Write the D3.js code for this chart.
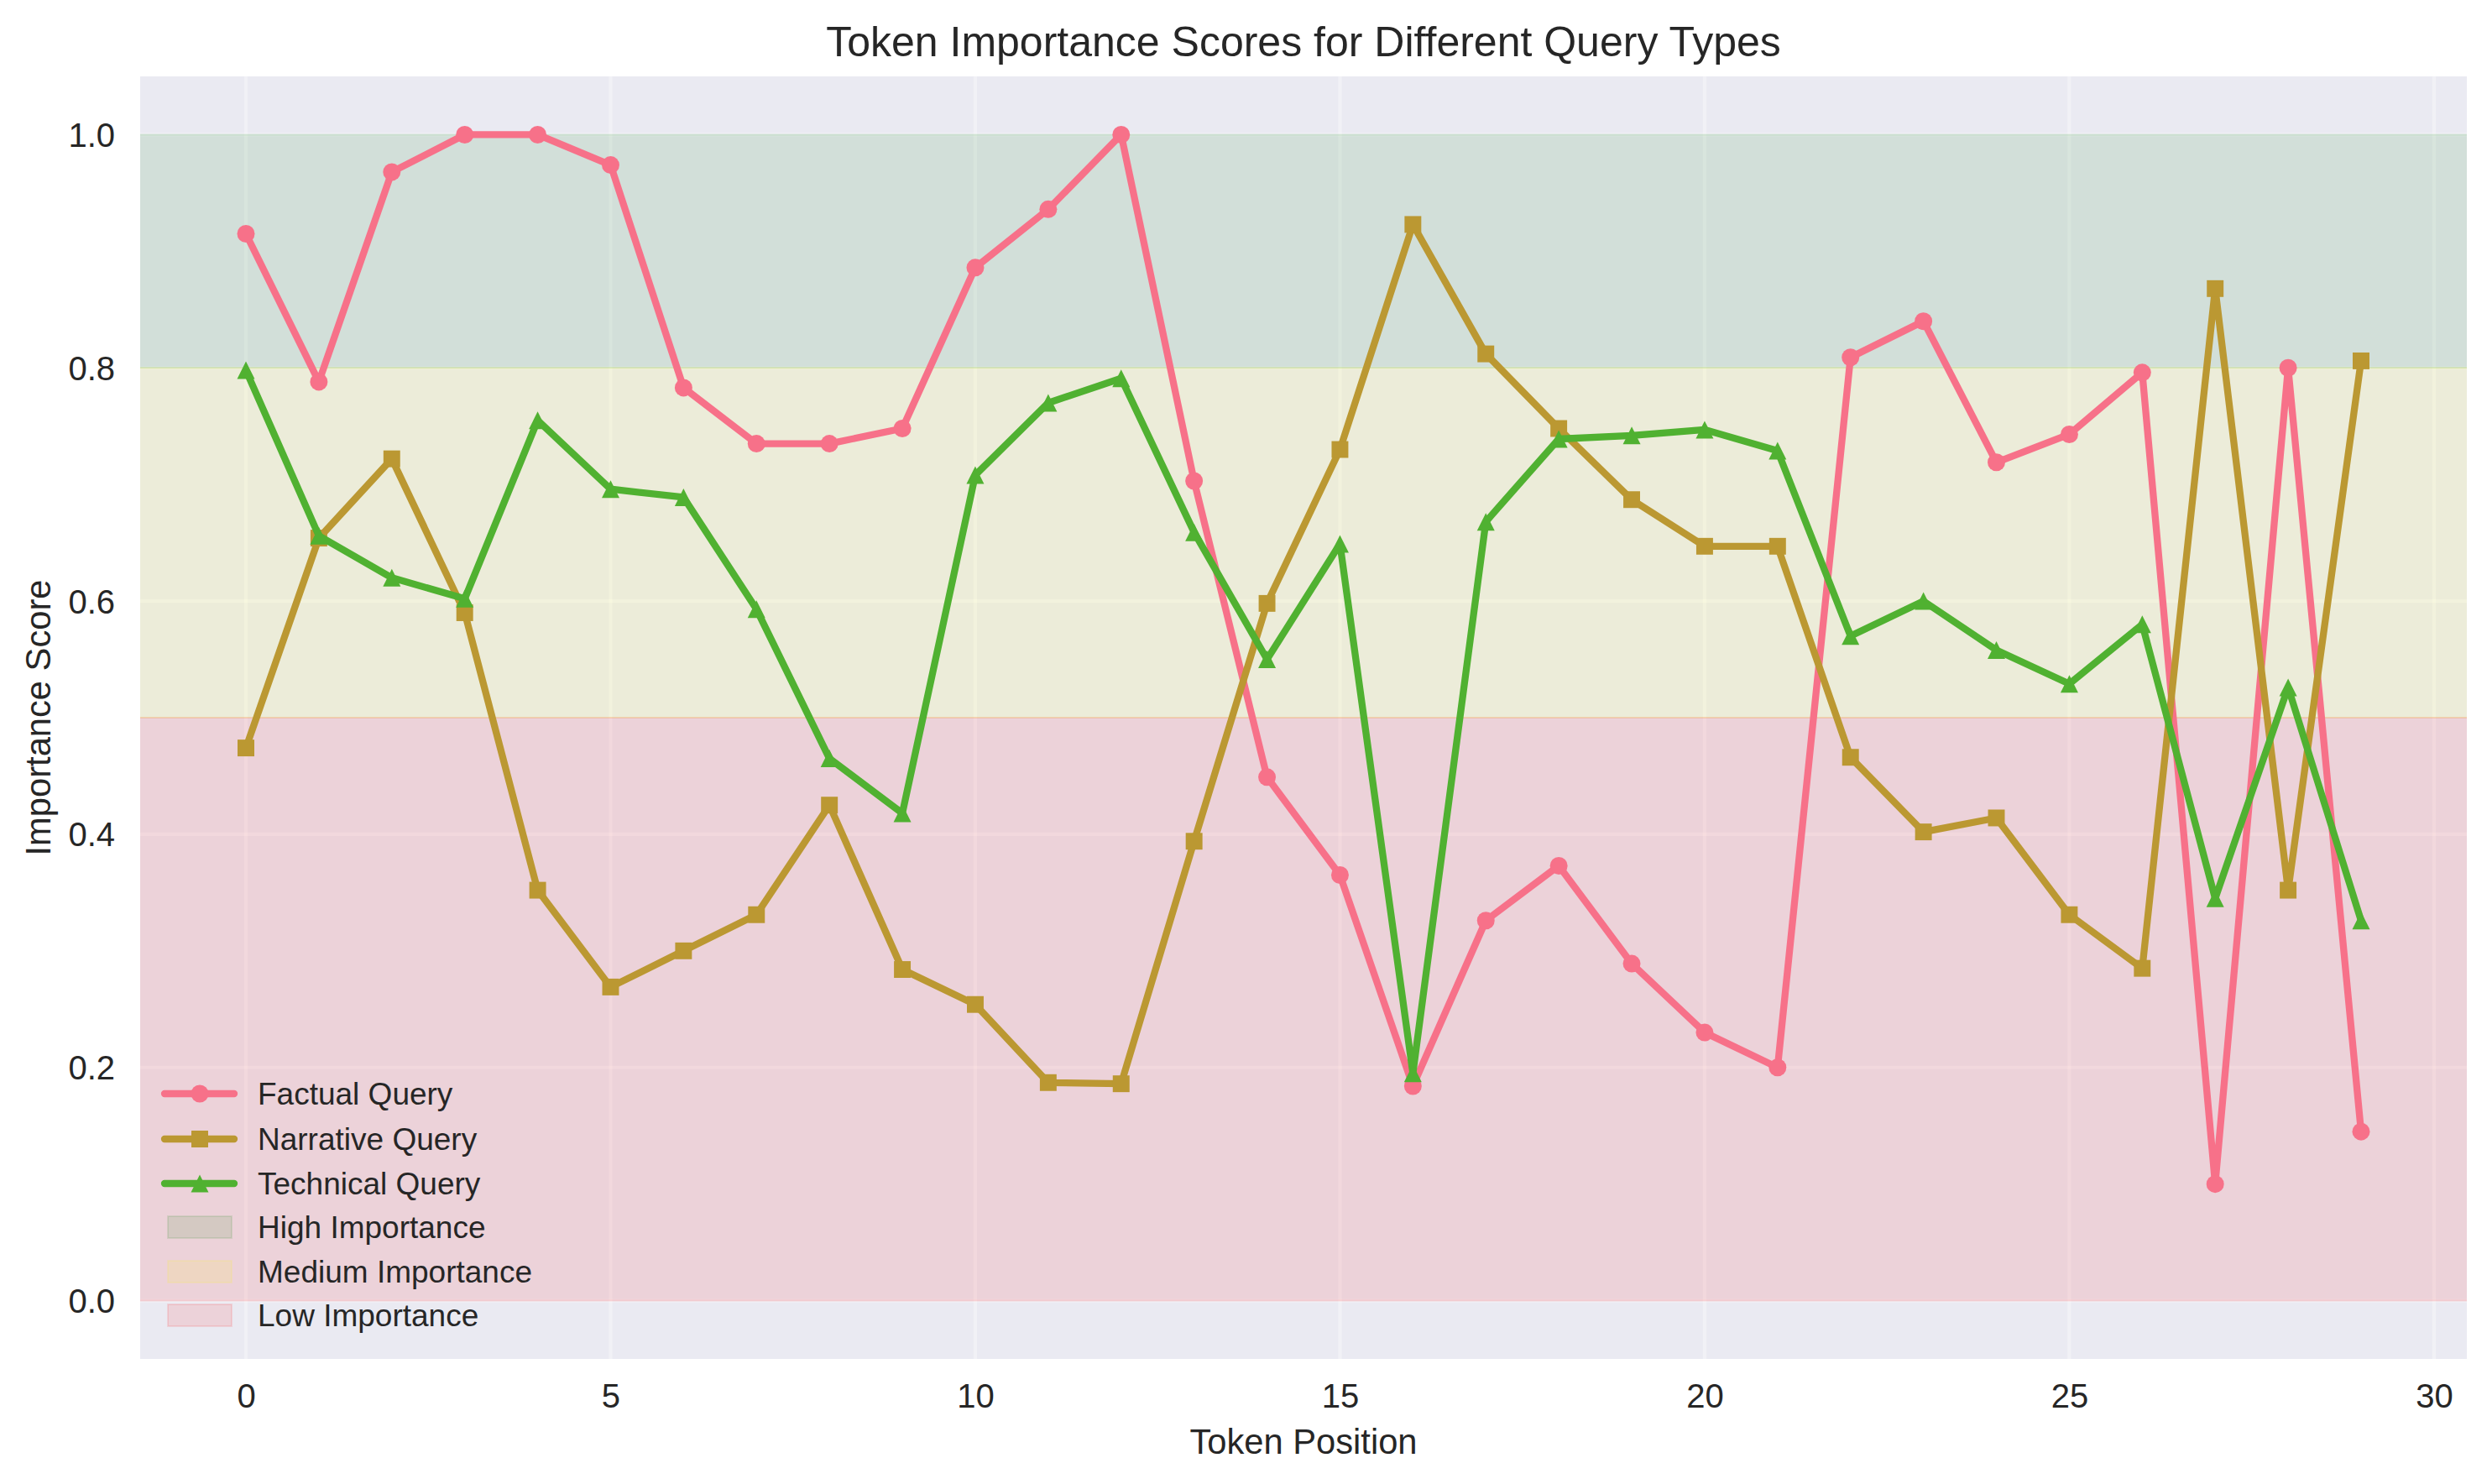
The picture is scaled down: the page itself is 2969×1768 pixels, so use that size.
<!DOCTYPE html>
<html>
<head>
<meta charset="utf-8">
<script src="https://cdn.jsdelivr.net/npm/d3@7"></script>
<style>
html, body { margin: 0; padding: 0; background: #ffffff; }
svg { display: block; }
text { font-family: "Liberation Sans", Arial, sans-serif; fill: #262626; }
</style>
</head>
<body>
<svg id="chart" width="2969" height="1768"></svg>
<script>
// ---- data ----
const positions = d3.range(30);
const factual = [0.915, 0.788, 0.968, 1.0, 1.0, 0.974, 0.783, 0.735, 0.735, 0.748,
                 0.886, 0.936, 1.0, 0.703, 0.449, 0.365, 0.184, 0.326, 0.373, 0.289,
                 0.230, 0.200, 0.809, 0.840, 0.719, 0.743, 0.796, 0.100, 0.800, 0.145];
const narrative = [0.474, 0.654, 0.722, 0.590, 0.352, 0.269, 0.300, 0.331, 0.425, 0.284,
                   0.254, 0.187, 0.186, 0.394, 0.598, 0.730, 0.923, 0.812, 0.748, 0.687,
                   0.647, 0.647, 0.466, 0.402, 0.414, 0.331, 0.285, 0.868, 0.352, 0.806];
const technical = [0.798, 0.656, 0.620, 0.602, 0.755, 0.696, 0.689, 0.593, 0.465, 0.418,
                   0.708, 0.770, 0.791, 0.659, 0.550, 0.649, 0.195, 0.668, 0.739, 0.742,
                   0.747, 0.729, 0.570, 0.600, 0.558, 0.529, 0.580, 0.345, 0.526, 0.326];
const seriesNames = ["Factual Query", "Narrative Query", "Technical Query"];
const seriesColors = ["#f77189", "#bb9832", "#50b131"];
const seriesMarkers = ["circle", "square", "triangle"];
const bandNames = ["High Importance", "Medium Importance", "Low Importance"];
const bandLow = [0.8, 0.5, 0.0];
const bandHigh = [1.0, 0.8, 0.5];
const bandColors = ["#008000", "#ffff00", "#ff0000"];
const xTicks = [0, 5, 10, 15, 20, 25, 30];
const yTicks = [0.0, 0.2, 0.4, 0.6, 0.8, 1.0];
const titleText = "Token Importance Scores for Different Query Types";
const xLabel = "Token Position";
const yLabel = "Importance Score";

// ---- layout ----
const svg = d3.select("#chart");
const L = 167, R = 2939, T = 91, B = 1619;
const x = d3.scaleLinear().domain([-1.45, 30.45]).range([L, R]);
const y = d3.scaleLinear().domain([-0.05, 1.05]).range([B, T]);

svg.append("rect").attr("x", L).attr("y", T).attr("width", R - L).attr("height", B - T)
  .attr("fill", "#eaeaf2");

// grid
const grid = svg.append("g");
xTicks.forEach(t => grid.append("line")
  .attr("x1", x(t)).attr("x2", x(t)).attr("y1", T).attr("y2", B)
  .attr("stroke", "#ffffff").attr("stroke-opacity", 0.35).attr("stroke-width", 4.2));
yTicks.forEach(t => grid.append("line")
  .attr("x1", L).attr("x2", R).attr("y1", y(t)).attr("y2", y(t))
  .attr("stroke", "#ffffff").attr("stroke-opacity", 0.35).attr("stroke-width", 4.2));

// bands
const clip = svg.append("clipPath").attr("id", "clipArea");
clip.append("rect").attr("x", L).attr("y", T).attr("width", R - L).attr("height", B - T);
const bands = svg.append("g").attr("clip-path", "url(#clipArea)");
bandNames.forEach((n, i) => {
  bands.append("rect")
    .attr("x", L - 5).attr("width", R - L + 10)
    .attr("y", y(bandHigh[i])).attr("height", y(bandLow[i]) - y(bandHigh[i]))
    .attr("fill", bandColors[i]).attr("fill-opacity", 0.1)
    .attr("stroke", bandColors[i]).attr("stroke-opacity", 0.1).attr("stroke-width", 2);
});

// marker paths
const MS = 21;
function markerPath(type) {
  const h = MS / 2;
  if (type === "circle") return d3.symbol(d3.symbolCircle, Math.PI * h * h)();
  if (type === "square") return `M${-h * 0.95},${-h * 0.95}H${h * 0.95}V${h * 0.95}H${-h * 0.95}Z`;
  return `M0,${-h}L${h},${h}L${-h},${h}Z`;
}

const allSeries = [factual, narrative, technical];
const lineGen = d3.line().x((d, i) => x(positions[i])).y(d => y(d));
const plot = svg.append("g").attr("clip-path", "url(#clipArea)");
allSeries.forEach((vals, si) => {
  const g = plot.append("g");
  g.append("path").datum(vals).attr("d", lineGen)
    .attr("fill", "none").attr("stroke", seriesColors[si]).attr("stroke-width", 8.3)
    .attr("stroke-linejoin", "round").attr("stroke-linecap", "round");
  g.selectAll("path.m").data(vals).enter().append("path").attr("class", "m")
    .attr("d", markerPath(seriesMarkers[si]))
    .attr("transform", (d, i) => `translate(${x(positions[i])},${y(d)})`)
    .attr("fill", seriesColors[si]);
});

// axes tick labels
const xAxis = d3.axisBottom(x).tickValues(xTicks).tickSize(0).tickPadding(0).tickFormat(d3.format("d"));
const gx = svg.append("g").attr("transform", `translate(0,${B})`).call(xAxis);
gx.select(".domain").remove();
gx.selectAll("text").attr("y", 58).attr("dy", null)
  .style("font-size", "40px").style("font-family", '"Liberation Sans", Arial, sans-serif').attr("fill", "#262626");

const yAxis = d3.axisLeft(y).tickValues(yTicks).tickSize(0).tickPadding(0).tickFormat(d3.format(".1f"));
const gy = svg.append("g").attr("transform", `translate(${L},0)`).call(yAxis);
gy.select(".domain").remove();
gy.selectAll("text").attr("x", -30).attr("dy", "0.35em")
  .style("font-size", "40px").style("font-family", '"Liberation Sans", Arial, sans-serif').attr("fill", "#262626");

// labels
svg.append("text").attr("x", (L + R) / 2).attr("y", 67).attr("text-anchor", "middle")
  .style("font-size", "50px").text(titleText);
svg.append("text").attr("x", (L + R) / 2).attr("y", 1732).attr("text-anchor", "middle")
  .style("font-size", "41.7px").text(xLabel);
svg.append("text").attr("transform", `translate(60,${(T + B) / 2}) rotate(-90)`)
  .attr("text-anchor", "middle").style("font-size", "41.7px").text(yLabel);

// legend
const legY = [1303, 1357, 1410, 1462, 1515, 1567];
const leg = svg.append("g");
seriesNames.forEach((n, i) => {
  leg.append("line").attr("x1", 196).attr("x2", 279).attr("y1", legY[i]).attr("y2", legY[i])
    .attr("stroke", seriesColors[i]).attr("stroke-width", 8.3).attr("stroke-linecap", "round");
  leg.append("path").attr("d", markerPath(seriesMarkers[i]))
    .attr("transform", `translate(238,${legY[i]})`).attr("fill", seriesColors[i]);
  leg.append("text").attr("x", 307).attr("y", legY[i]).attr("dy", "0.35em")
    .style("font-size", "37px").text(n);
});
bandNames.forEach((n, j) => {
  const i = j + 3;
  leg.append("rect").attr("x", 200).attr("y", legY[i] - 13).attr("width", 76).attr("height", 26)
    .attr("fill", bandColors[j]).attr("fill-opacity", 0.1)
    .attr("stroke", bandColors[j]).attr("stroke-opacity", 0.1).attr("stroke-width", 2);
  leg.append("text").attr("x", 307).attr("y", legY[i]).attr("dy", "0.35em")
    .style("font-size", "37px").text(n);
});
</script>
</body>
</html>
